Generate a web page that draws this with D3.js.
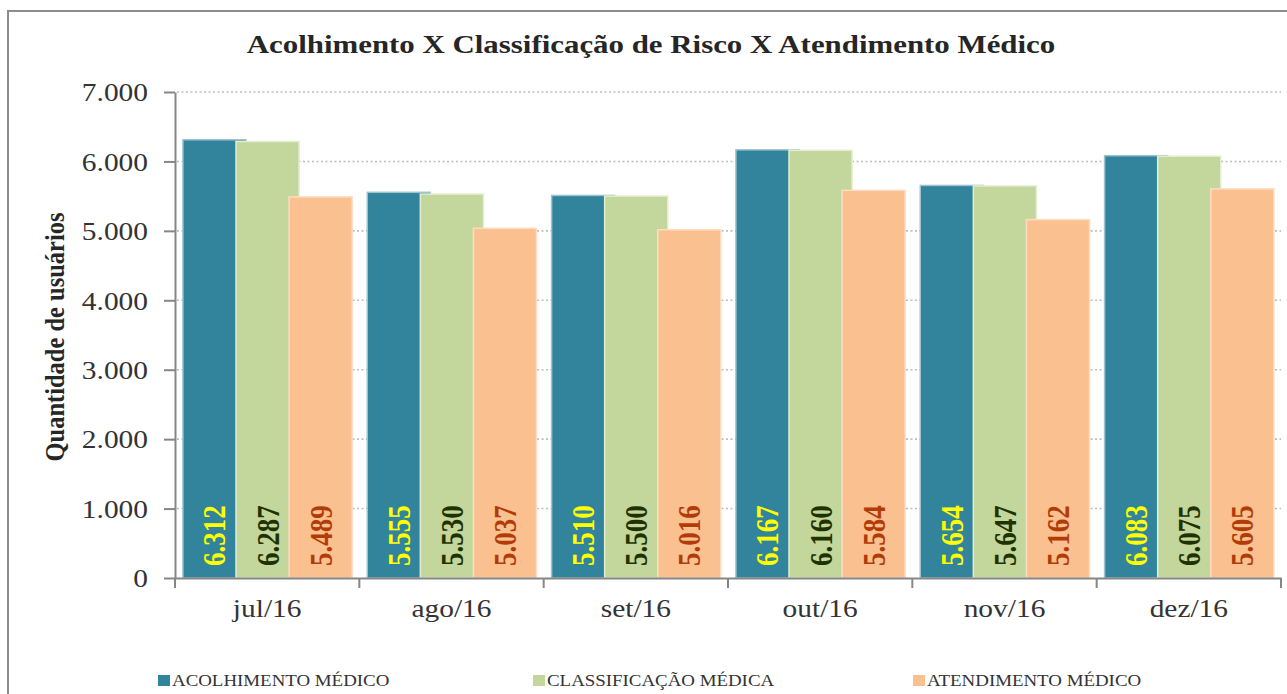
<!DOCTYPE html>
<html>
<head>
<meta charset="utf-8">
<script src="https://cdn.jsdelivr.net/npm/d3@7"></script>
<style>
  body { margin: 0; background: #fff; }
  svg { display: block; font-family: "Liberation Serif", "Times New Roman", serif; }
</style>
</head>
<body>
<svg id="chart" width="1287" height="694"></svg>
<script>
const months = ['jul/16', 'ago/16', 'set/16', 'out/16', 'nov/16', 'dez/16'];
const acolhimento = [6312, 5555, 5510, 6167, 5654, 6083];
const classificacao = [6287, 5530, 5500, 6160, 5647, 6075];
const atendimento = [5489, 5037, 5016, 5584, 5162, 5605];
const seriesNames = ['ACOLHIMENTO MÉDICO', 'CLASSIFICAÇÃO MÉDICA', 'ATENDIMENTO MÉDICO'];
const yTicks = [0, 1000, 2000, 3000, 4000, 5000, 6000, 7000];

const fills = ['#31849b', '#c3d69b', '#fac090'];
const edges = ['#9cc3cf', '#e3edd0', '#fddcc2'];
const labelColors = ['#ffff00', '#1f3300', '#b23c08'];

const svg = d3.select('#chart');
const margin = { top: 92, left: 175, right: 1281, bottom: 578 };

const ptBR = d3.formatLocale({ decimal: ',', thousands: '.', grouping: [3], currency: ['R$', ''] });
const fmt = ptBR.format(',d');

// the original picture is a bit wider than tall, so horizontal text is stretched
function stretch(sel, k) {
  sel.each(function () {
    const w = this.getComputedTextLength();
    d3.select(this).attr('textLength', w * k).attr('lengthAdjust', 'spacingAndGlyphs');
  });
}

// outer frame
svg.append('rect')
  .attr('x', 8).attr('y', 11)
  .attr('width', 1300).attr('height', 700)
  .attr('fill', 'none')
  .attr('stroke', '#8c8c8c')
  .attr('stroke-width', 2);

const x = d3.scaleBand().domain(months).range([margin.left, margin.right]);
const y = d3.scaleLinear().domain([0, 7000]).range([margin.bottom, margin.top]);

// gridlines
svg.append('g')
  .selectAll('line')
  .data(yTicks.slice(1))
  .join('line')
  .attr('x1', margin.left + 2).attr('x2', margin.right)
  .attr('y1', d => y(d)).attr('y2', d => y(d))
  .attr('stroke', '#bdbdbd')
  .attr('stroke-width', 1.6)
  .attr('stroke-dasharray', '2,2.5');

// bars
const bw = x.bandwidth();
const barW = bw * 0.342;
const step = bw * 0.288;
const offset0 = bw * 0.043;

const series = [acolhimento, classificacao, atendimento];
series.forEach((vals, s) => {
  const g = svg.append('g');
  g.selectAll('rect')
    .data(vals)
    .join('rect')
    .attr('x', (d, i) => x(months[i]) + offset0 + s * step)
    .attr('y', d => y(d))
    .attr('width', barW)
    .attr('height', d => y(0) - y(d))
    .attr('fill', fills[s])
    .attr('stroke', edges[s])
    .attr('stroke-width', 1.5);
});

// value labels
series.forEach((vals, s) => {
  svg.append('g')
    .selectAll('text')
    .data(vals)
    .join('text')
    .attr('transform', (d, i) => {
      const cx = x(months[i]) + offset0 + s * step + barW / 2 + 11;
      return `translate(${cx},${y(0) - 12}) rotate(-90) scale(1,1.15)`;
    })
    .attr('font-size', 27)
    .attr('font-weight', 'bold')
    .attr('fill', labelColors[s])
    .text(d => fmt(d));
});

// y axis
const yAxis = svg.append('g')
  .attr('transform', `translate(${margin.left},0)`)
  .call(d3.axisLeft(y).tickValues(yTicks).tickFormat(fmt).tickSize(11).tickSizeOuter(0).tickPadding(16));
yAxis.select('.domain').attr('stroke', '#868686').attr('stroke-width', 2);
yAxis.selectAll('.tick line').attr('stroke', '#868686').attr('stroke-width', 2);
yAxis.selectAll('.tick text')
  .attr('font-family', '"Liberation Serif", serif')
  .attr('font-size', 24.5)
  .attr('fill', '#333')
  .attr('dy', '0.36em')
  .call(stretch, 1.2);

// x axis
const xAxis = svg.append('g')
  .attr('transform', `translate(0,${margin.bottom})`)
  .call(d3.axisBottom(x).tickSize(0).tickSizeOuter(0).tickPadding(22));
xAxis.select('.domain').attr('stroke', '#868686').attr('stroke-width', 2);
xAxis.selectAll('.tick text')
  .attr('font-family', '"Liberation Serif", serif')
  .attr('font-size', 24.5)
  .attr('fill', '#333')
  .call(stretch, 1.2);
xAxis.append('g')
  .selectAll('line')
  .data(months.concat(['end']))
  .join('line')
  .attr('x1', (d, i) => margin.left + i * bw)
  .attr('x2', (d, i) => margin.left + i * bw)
  .attr('y1', 0).attr('y2', 10)
  .attr('stroke', '#868686')
  .attr('stroke-width', 2);

// title
svg.append('text')
  .attr('x', 651).attr('y', 53)
  .attr('text-anchor', 'middle')
  .attr('font-size', 24.5)
  .attr('font-weight', 'bold')
  .attr('fill', '#262626')
  .text('Acolhimento X Classificação de Risco X Atendimento Médico')
  .call(stretch, 1.26);

// y label
svg.append('text')
  .attr('transform', 'translate(64,337) rotate(-90) scale(1,1.15)')
  .attr('text-anchor', 'middle')
  .attr('font-size', 24.5)
  .attr('font-weight', 'bold')
  .attr('fill', '#262626')
  .text('Quantidade de usuários');

// legend
const legendX = [158, 533, 913];
const legend = svg.append('g')
  .selectAll('g')
  .data(seriesNames)
  .join('g')
  .attr('transform', (d, i) => `translate(${legendX[i]},675)`);
legend.append('rect')
  .attr('width', 12).attr('height', 11)
  .attr('fill', (d, i) => fills[i]);
legend.append('text')
  .attr('x', 14).attr('y', 11)
  .attr('font-size', 16)
  .attr('fill', '#333')
  .text(d => d)
  .call(stretch, 1.18);
</script>
</body>
</html>
